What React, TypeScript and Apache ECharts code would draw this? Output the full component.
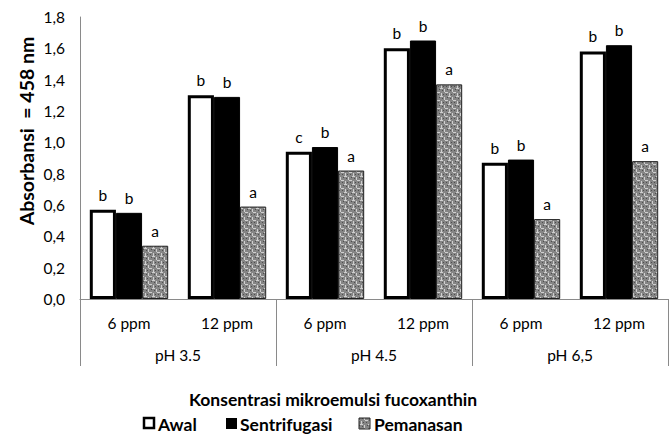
import React, { useEffect, useRef } from "react";
import * as echarts from "echarts";

const categories = ["6 ppm", "12 ppm", "6 ppm", "12 ppm", "6 ppm", "12 ppm"];
const groups = ["pH 3.5", "pH 4.5", "pH 6,5"];
const awal = [0.57, 1.30, 0.94, 1.60, 0.87, 1.58];
const sentrifugasi = [0.55, 1.29, 0.97, 1.65, 0.89, 1.62];
const pemanasan = [0.34, 0.59, 0.82, 1.37, 0.51, 0.88];
const lettersAwal = ["b", "b", "c", "b", "b", "b"];
const lettersSentrifugasi = ["b", "b", "b", "b", "b", "b"];
const lettersPemanasan = ["a", "a", "a", "a", "a", "a"];
const yTicks = { min: 0, max: 1.8, interval: 0.2 };

const FONT = "Lato, 'Open Sans', sans-serif";

function makePattern(): HTMLCanvasElement {
  const c = document.createElement("canvas");
  c.width = 8;
  c.height = 8;
  const ctx = c.getContext("2d")!;
  ctx.fillStyle = "#858585";
  ctx.fillRect(0, 0, 8, 8);
  ctx.fillStyle = "#cfcfcf";
  ctx.fillRect(0, 0, 3, 1);
  ctx.fillRect(4, 1, 1, 3);
  ctx.fillRect(5, 4, 3, 1);
  ctx.fillRect(1, 5, 1, 3);
  ctx.fillStyle = "#4e4e4e";
  ctx.fillRect(2, 2, 1, 1);
  ctx.fillRect(6, 6, 1, 1);
  ctx.fillRect(7, 1, 1, 1);
  ctx.fillRect(3, 6, 1, 1);
  return c;
}

export default function App() {
  const ref = useRef<HTMLDivElement>(null);
  useEffect(() => {
    if (!ref.current) return;
    const chart = echarts.init(ref.current, undefined, { renderer: "svg" });
    const pattern = { image: makePattern(), repeat: "repeat" } as any;
    const labelBase = {
      show: true,
      position: "top" as const,
      distance: 7,
      fontFamily: FONT,
      fontSize: 15.5,
      color: "#000",
    };
    const legendText = (x: number, text: string) => ({
      type: "text",
      x,
      y: 424,
      style: {
        text,
        fontFamily: FONT,
        fontSize: 17.5,
        fontWeight: "bold",
        fill: "#000",
        align: "left",
        verticalAlign: "middle",
      },
    });
    chart.setOption({
      animation: false,
      grid: { left: 80, right: 2, top: 17, bottom: 136, containLabel: false },
      xAxis: [
        {
          type: "category",
          data: categories,
          position: "bottom",
          axisLine: { show: true, lineStyle: { color: "#8a8a8a", width: 1 } },
          axisTick: {
            show: true,
            interval: (i: number) => i % 2 === 0,
            length: 67,
            lineStyle: { color: "#8a8a8a" },
          },
          axisLabel: {
            interval: 0,
            margin: 16,
            fontFamily: FONT,
            fontSize: 15.5,
            color: "#000",
          },
        },
        {
          type: "category",
          data: groups,
          position: "bottom",
          axisLine: { show: false },
          axisTick: { show: false },
          axisLabel: {
            interval: 0,
            margin: 48,
            fontFamily: FONT,
            fontSize: 15.5,
            color: "#000",
          },
        },
      ],
      yAxis: {
        type: "value",
        min: yTicks.min,
        max: yTicks.max,
        interval: yTicks.interval,
        splitLine: { show: false },
        axisTick: { show: false },
        axisLine: { show: true, lineStyle: { color: "#8a8a8a" } },
        axisLabel: {
          margin: 15,
          fontFamily: FONT,
          fontSize: 15.5,
          color: "#000",
          formatter: (v: number) => v.toFixed(1).replace(".", ","),
        },
      },
      series: [
        {
          name: "Awal",
          type: "bar",
          data: awal,
          barGap: "0%",
          barCategoryGap: "20%",
          itemStyle: { color: "#fff", borderColor: "#000", borderWidth: 3 },
          label: { ...labelBase, formatter: (p: any) => lettersAwal[p.dataIndex] },
        },
        {
          name: "Sentrifugasi",
          type: "bar",
          data: sentrifugasi,
          barGap: "0%",
          barCategoryGap: "20%",
          itemStyle: { color: "#000", borderColor: "#000", borderWidth: 1 },
          label: { ...labelBase, formatter: (p: any) => lettersSentrifugasi[p.dataIndex] },
        },
        {
          name: "Pemanasan",
          type: "bar",
          data: pemanasan,
          barGap: "0%",
          barCategoryGap: "20%",
          itemStyle: { color: pattern, borderColor: "#222", borderWidth: 1 },
          label: { ...labelBase, formatter: (p: any) => lettersPemanasan[p.dataIndex] },
        },
      ],
      graphic: [
        {
          type: "text",
          x: 26,
          y: 131,
          rotation: Math.PI / 2,
          style: {
            text: "Absorbansi  = 458 nm",
            fontFamily: FONT,
            fontSize: 19.5,
            fontWeight: "bold",
            fill: "#000",
            align: "center",
            verticalAlign: "middle",
          },
        },
        {
          type: "text",
          x: 333,
          y: 399,
          style: {
            text: "Konsentrasi mikroemulsi fucoxanthin",
            fontFamily: FONT,
            fontSize: 17.5,
            fontWeight: "bold",
            fill: "#000",
            align: "center",
            verticalAlign: "middle",
          },
        },
        {
          type: "rect",
          shape: { x: 144, y: 418, width: 10, height: 10 },
          style: { fill: "#fff", stroke: "#000", lineWidth: 2.5 },
        },
        legendText(158, "Awal"),
        {
          type: "rect",
          shape: { x: 226, y: 418, width: 11, height: 11 },
          style: { fill: "#000" },
        },
        legendText(240, "Sentrifugasi"),
        {
          type: "rect",
          shape: { x: 359, y: 418, width: 11, height: 11 },
          style: { fill: pattern, stroke: "#222", lineWidth: 1 },
        },
        legendText(374, "Pemanasan"),
      ],
    });
    return () => chart.dispose();
  }, []);
  return <div ref={ref} style={{ width: 670, height: 435, position: "absolute", left: 0, top: 0 }} />;
}
